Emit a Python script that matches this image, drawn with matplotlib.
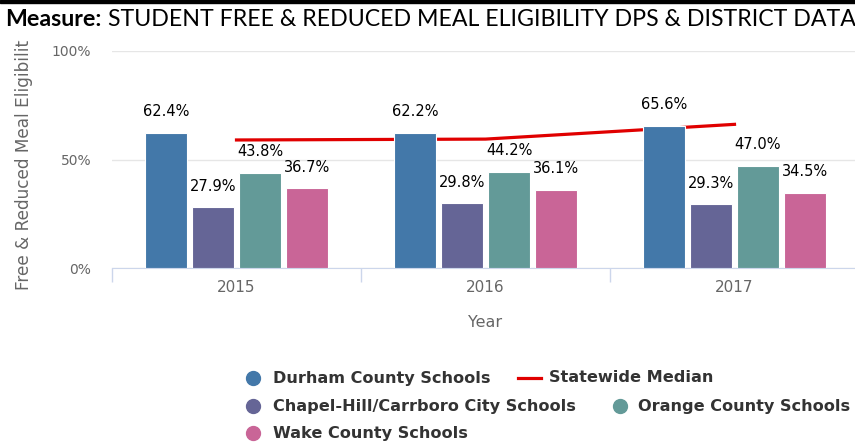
import matplotlib
matplotlib.use("Agg")
import matplotlib.pyplot as plt
from matplotlib.lines import Line2D
from matplotlib.patches import Rectangle
import numpy as np

# data
years = ["2015", "2016", "2017"]
durham = [62.4, 62.2, 65.6]
chapel_hill = [27.9, 29.8, 29.3]
orange = [43.8, 44.2, 47.0]
wake = [36.7, 36.1, 34.5]
statewide = [59.0, 59.4, 66.2]

names = ["Durham County Schools", "Chapel-Hill/Carrboro City Schools",
         "Orange County Schools", "Wake County Schools"]
colors = ["#4378a9", "#656596", "#639a98", "#c96597"]
red = "#e00000"

W, H = 855, 444
fig = plt.figure(figsize=(W / 100, H / 100), dpi=100)
ax = fig.add_axes([112 / W, 176 / H, 747 / W, 217 / H])

x = np.arange(len(years))
pitch = 0.189
for i, (vals, c) in enumerate(zip([durham, chapel_hill, orange, wake], colors)):
    bars = ax.bar(x + (i - 1.5) * pitch, vals, width=0.169, color=c,
                  edgecolor="white", linewidth=0.8, zorder=3)
    for b, v in zip(bars, vals):
        ax.annotate(f"{v:.1f}%", (b.get_x() + b.get_width() / 2, v),
                    xytext=(0, 12), textcoords="offset points",
                    ha="center", va="baseline", fontsize=10.5,
                    color="black", zorder=5)

ax.plot(x, statewide, color=red, lw=2.3, zorder=2)

ax.set_xlim(-0.5, 2.5)
ax.set_ylim(0, 100)
ax.set_yticks([0, 50, 100])
ax.set_yticklabels(["0%", "50%", "100%"])
ax.tick_params(axis="y", length=0, pad=15, labelsize=10, labelcolor="#666666")

ax.set_xticks([-0.5, 0.5, 1.5, 2.5])
ax.set_xticklabels([])
ax.tick_params(axis="x", which="major", length=10, width=1, color="#ccd6eb")
ax.set_xticks(x, minor=True)
ax.set_xticklabels(years, minor=True)
ax.tick_params(axis="x", which="minor", length=0, pad=9, labelsize=11,
               labelcolor="#666666")

ax.grid(axis="y", color="#e6e6e6", lw=1)
ax.set_axisbelow(True)
for s in ["left", "top", "right"]:
    ax.spines[s].set_visible(False)
ax.spines["bottom"].set_color("#ccd6eb")

ax.set_xlabel("Year", fontsize=11.5, color="#666666", labelpad=14)
ax.set_ylabel("Free & Reduced Meal Eligibility", fontsize=12.2, color="#666666")
ax.yaxis.set_label_coords((33 - 112) / 747, 0.5)

# title band (covers the top of the axis title, as in the original)
fig.add_artist(Rectangle((0, 1 - 39 / H), 1, 39 / H, transform=fig.transFigure,
                         color="white", zorder=10))
fig.add_artist(Rectangle((0, 1 - 3 / H), 1, 3 / H, transform=fig.transFigure,
                         color="black", zorder=11))

renderer = fig.canvas.get_renderer()
t1 = fig.text(5 / W, 1 - 26 / H, "Measure:", fontsize=10, fontweight="bold",
              family="Lato", va="baseline", zorder=12)
t2 = fig.text(0, 1 - 26 / H, "STUDENT FREE & REDUCED MEAL ELIGIBILITY DPS & DISTRICT DATA",
              fontsize=10, family="Lato", va="baseline", zorder=12)
w1 = t1.get_window_extent(renderer).width
w2 = t2.get_window_extent(renderer).width
gap = 0.25 * 10 * 100 / 72
fs = 10 * 845 / (w1 + gap + w2)
t1.set_fontsize(fs)
t2.set_fontsize(fs)
t2.set_x((5 + w1 * fs / 10 + gap * fs / 10) / W)

# legend
def leg_marker(mx, my, c):
    fig.add_artist(Line2D([mx / W], [1 - my / H], marker="o", markersize=10,
                          color=c, linestyle="none", transform=fig.transFigure))

def leg_text(tx, ty, s):
    fig.text(tx / W, 1 - ty / H, s, fontsize=11.6, fontweight="bold",
             color="#333333", va="center")

leg_marker(253, 378, colors[0]); leg_text(273, 378, names[0])
fig.add_artist(Line2D([518 / W, 541 / W], [1 - 378 / H] * 2, color=red, lw=2.3,
                      transform=fig.transFigure))
leg_text(549, 378, "Statewide Median")
leg_marker(253, 406, colors[1]); leg_text(273, 406, names[1])
leg_marker(620, 406, colors[2]); leg_text(638, 406, names[2])
leg_marker(253, 433, colors[3]); leg_text(273, 433, names[3])

fig.savefig("out.png", dpi=100)
